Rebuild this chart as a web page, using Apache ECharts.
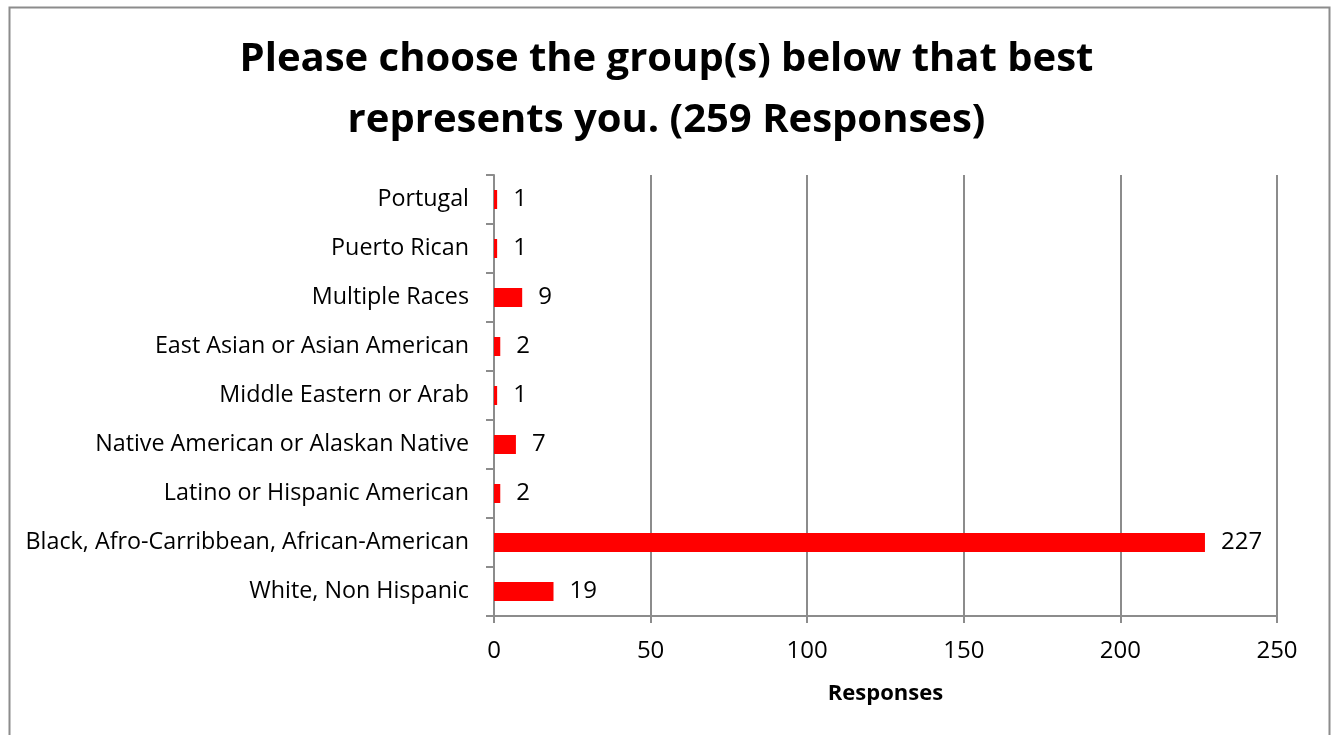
<!DOCTYPE html>
<html>
<head>
<meta charset="utf-8">
<script src="https://cdn.jsdelivr.net/npm/echarts@6/dist/echarts.min.js"></script>
<style>
  html, body { margin: 0; padding: 0; background: #fff; }
  #chart { width: 1333px; height: 735px; }
</style>
</head>
<body>
<div id="chart"></div>
<script>
// bottom to top, as drawn on the category axis
const groups = [
  "White, Non Hispanic",
  "Black, Afro-Carribbean, African-American",
  "Latino or Hispanic American",
  "Native American or Alaskan Native",
  "Middle Eastern or Arab",
  "East Asian or Asian American",
  "Multiple Races",
  "Puerto Rican",
  "Portugal"
]
const responses = [19, 227, 2, 7, 1, 2, 9, 1, 1]

const titleText = "Please choose the group(s) below that best\nrepresents you. (259 Responses)"
const axisName = "Responses"

const font = "Open Sans"
const gray = "#8c8c8c"

const myChart = echarts.init(document.getElementById("chart"))

myChart.setOption({
  animation: false,
  textStyle: {fontFamily: font},
  graphic: [
    {
      type: "rect",
      left: 7,
      top: 5,
      shape: {width: 1320, height: 740},
      style: {fill: "none", stroke: gray, lineWidth: 2},
    },
  ],
  title: {
    text: titleText,
    left: "center",
    top: 24,
    textStyle: {
      fontFamily: font,
      fontSize: 40,
      fontWeight: "bold",
      color: "#000",
      lineHeight: 61,
    },
  },
  grid: {
    left: 494,
    right: 56,
    top: 175,
    bottom: 119,
  },
  xAxis: {
    type: "value",
    min: 0,
    max: 250,
    interval: 50,
    name: axisName,
    nameLocation: "middle",
    nameGap: 67,
    nameTextStyle: {fontFamily: font, fontSize: 22, fontWeight: "bold", color: "#000"},
    axisLine: {show: true, lineStyle: {color: gray, width: 2}},
    axisTick: {show: true, length: 7, lineStyle: {color: gray, width: 2}},
    axisLabel: {fontFamily: font, fontSize: 24, color: "#000", margin: 23},
    splitLine: {show: true, lineStyle: {color: gray, width: 2}},
  },
  yAxis: {
    type: "category",
    data: groups,
    axisLine: {show: true, lineStyle: {color: gray, width: 2}},
    axisTick: {show: true, length: 8, lineStyle: {color: gray, width: 2}},
    axisLabel: {fontFamily: font, fontSize: 23.3, color: "#000", margin: 25, padding: [4, 0, 0, 0]},
  },
  series: [
    {
      name: axisName,
      type: "bar",
      data: responses,
      barWidth: 19,
      itemStyle: {color: "#ff0000"},
      label: {
        show: true,
        position: "right",
        distance: 16,
        fontFamily: font,
        fontSize: 24,
        color: "#000",
        padding: [4, 0, 0, 0],
      },
    },
  ],
})
</script>
</body>
</html>
